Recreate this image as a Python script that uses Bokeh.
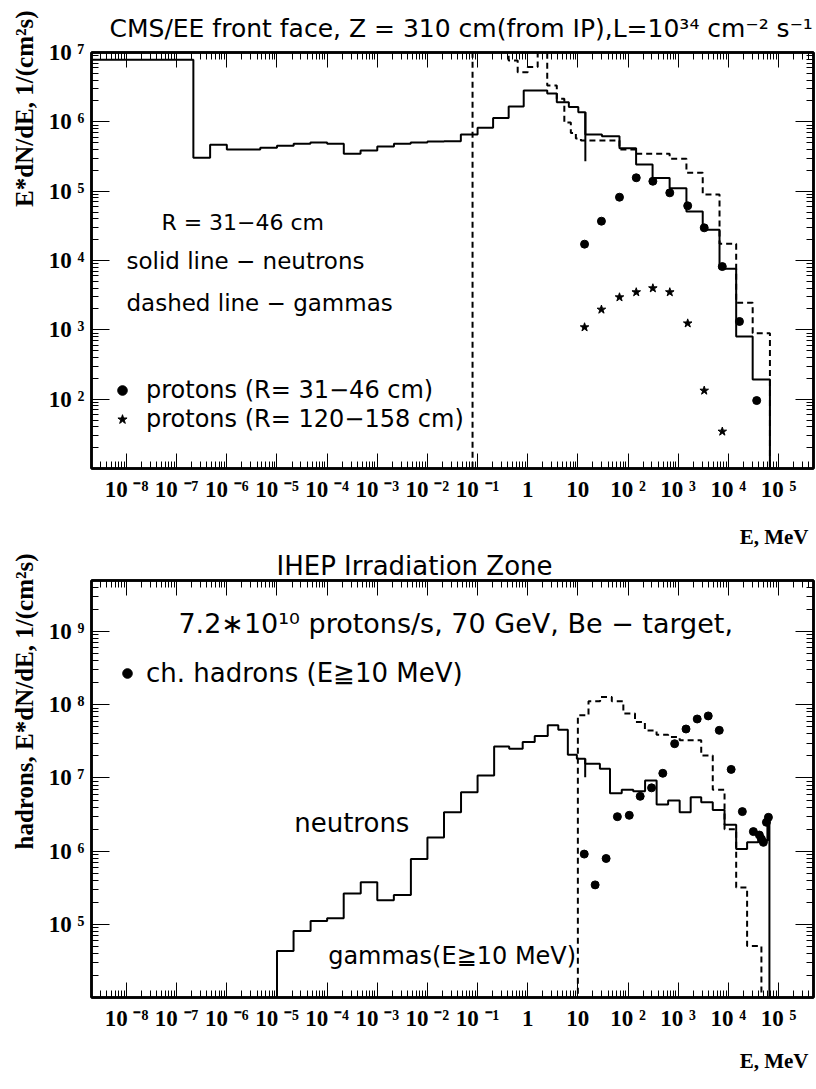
import math
from bokeh.plotting import figure
from bokeh.models import (Range1d, LogAxis, FixedTicker, CustomJSTickFormatter,
                          Label, Legend, LegendItem, Title)
from bokeh.layouts import column
from bokeh.embed import file_html
from bokeh.resources import INLINE

# ---------------- data ----------------
# Top panel: CMS/EE front face, R = 31-46 cm
top_n_edges = [1e-9, 2.15e-7, 4.64e-7, 1e-6, 2.15e-6, 4.64e-6, 1e-5, 2.15e-5, 4.64e-5,
               1e-4, 2.15e-4, 4.64e-4, 1e-3, 2.15e-3, 4.64e-3, 0.01, 0.0215, 0.0464,
               0.1, 0.204, 0.417, 0.832, 2.45, 3.80, 6.61, 10.2, 14.1, 30.2, 67.6,
               145, 309, 676, 1462, 3090, 6683, 14355, 30620, 67608]
top_n_vals = [7.85e6, 3.03e5, 4.67e5, 3.99e5, 3.99e5, 4.22e5, 4.51e5, 4.82e5, 5.04e5,
              4.82e5, 3.46e5, 3.86e5, 4.41e5, 4.82e5, 5.04e5, 5.20e5, 5.26e5, 6.56e5,
              8.20e5, 1.14e6, 1.66e6, 2.83e6, 2.57e6, 1.92e6, 1.63e6, 1.38e6, 6.56e5,
              6.21e5, 4.17e5, 2.43e5, 1.55e5, 1.10e5, 5.09e4, 2.77e4, 7.59e3, 802, 192]
top_n_spike_E = [14.1]
top_n_spike_hi = [1.38e6]
top_n_spike_lo = [2.7e5]

top_g_edges = [0.0794, 0.417, 0.631, 1.0, 1.58, 2.45, 3.80, 5.37, 7.24, 9.12, 11.5,
               67.6, 145, 676, 1462, 3090, 6683, 14355, 30620, 67608]
top_g_vals = [2.5e7, 7.67e6, 5.20e6, 6.17e6, 2.5e7, 3.34e6, 2.15e6, 9.77e5, 6.92e5,
              5.75e5, 5.37e5, 3.98e5, 3.46e5, 2.93e5, 1.84e5, 8.95e4, 1.74e4, 2.45e3, 893]

prot_E = [13.6, 29.5, 67.6, 146, 313, 681, 1550, 3310, 7590, 16700, 36800]
prot_R31_46 = [1.72e4, 3.69e4, 8.18e4, 1.56e5, 1.39e5, 9.46e4, 6.15e4, 2.96e4,
               8.18e3, 1.32e3, 95.5]
prot_R120_158_E = [13.6, 29.5, 67.6, 146, 313, 681, 1550, 3310, 7590]
prot_R120_158 = [1.09e3, 1.96e3, 2.95e3, 3.49e3, 3.98e3, 3.49e3, 1.24e3, 133, 34.1]

# Bottom panel: IHEP irradiation zone
bot_n_edges = [1e-5, 2.14e-5, 4.68e-5, 1e-4, 2.14e-4, 4.68e-4, 1e-3, 2.14e-3, 4.68e-3,
               0.01, 0.0214, 0.0468, 0.1, 0.214, 0.427, 0.794, 1.38, 2.51, 4.07, 6.31,
               9.55, 14.0, 27.5, 43.7, 75.0, 127, 219, 372, 631, 1072, 1778, 2884,
               4898, 8414, 14355, 23714, 39811, 60256, 66069]
bot_n_vals = [4.31e4, 8.13e4, 1.11e5, 1.21e5, 2.63e5, 3.77e5, 2.14e5, 2.52e5, 7.80e5,
              1.54e6, 3.40e6, 6.38e6, 1.08e7, 2.70e7, 2.51e7, 3.10e7, 3.74e7, 5.25e7,
              4.57e7, 2.08e7, 1.83e7, 1.57e7, 1.34e7, 6.19e6, 6.89e6, 6.61e6, 9.25e6,
              4.33e6, 4.91e6, 3.40e6, 5.46e6, 4.66e6, 3.66e6, 2.30e6, 1.07e6, 1.32e6,
              1.39e6, 2.88e6]
bot_n_spike_E = [14.0]
bot_n_spike_hi = [1.83e7]
bot_n_spike_lo = [1.02e7]

bot_g_edges = [10.0, 16.3, 27.8, 47.5, 80.7, 138, 217, 371, 631, 1072, 2884, 4898,
               8414, 14355, 23714, 45709]
bot_g_vals = [7.19e7, 1.12e8, 1.28e8, 1.12e8, 7.59e7, 5.82e7, 4.47e7, 3.89e7, 3.63e7,
              3.27e7, 2.03e7, 6.89e6, 2.0e6, 3.18e5, 5.04e4]

had_E = [13.4, 22.1, 36.6, 61.4, 106, 175, 295, 494, 851, 1435, 2399, 3981, 6607,
         11402, 19055, 31623, 41687, 45709, 50119, 57544, 63096]
had_vals = [9.12e5, 3.46e5, 7.94e5, 2.96e6, 3.09e6, 5.62e6, 7.33e6, 1.16e7, 2.94e7,
            4.67e7, 6.40e7, 7.05e7, 4.48e7, 1.31e7, 3.47e6, 1.85e6, 1.66e6, 1.47e6,
            1.32e6, 2.48e6, 2.90e6]

# ---------------- layout constants (page px) ----------------
X_LO, X_HI = 2e-9, 5e5
Y1_LO, Y1_HI = 10.0, 1e7
Y2_LO, Y2_HI = 1e4, 5e9
W = 815
FL, FR = 90, 813          # frame left / right
T1, B1 = 52, 468          # top panel frame
T2, B2 = 580, 997         # bottom panel frame
H1 = 522
H2 = 563

TXT = "DejaVu Sans"
SERIF = "Liberation Serif"


def X(px):
    lo, hi = math.log10(X_LO), math.log10(X_HI)
    return 10 ** (lo + (px - FL) * (hi - lo) / (FR - FL))


def Y1(py):
    lo, hi = math.log10(Y1_LO), math.log10(Y1_HI)
    return 10 ** (hi - (py - T1) * (hi - lo) / (B1 - T1))


def Y2(py):
    lo, hi = math.log10(Y2_LO), math.log10(Y2_HI)
    return 10 ** (hi - (py - T2) * (hi - lo) / (B2 - T2))


def steps(edges, vals, floor):
    xs, ys = [edges[0]], [floor]
    for i, v in enumerate(vals):
        xs += [edges[i], edges[i + 1]]
        ys += [v, v]
    xs.append(edges[-1])
    ys.append(floor)
    return xs, ys


FMT = """
const e = Math.round(Math.log10(tick));
if (hide.includes(e)) return "";
if (e === 0) return "1";
if (e === 1) return "10";
const sup = {"-": "\u207b", "0": "\u2070", "1": "\u00b9", "2": "\u00b2", "3": "\u00b3",
             "4": "\u2074", "5": "\u2075", "6": "\u2076", "7": "\u2077", "8": "\u2078",
             "9": "\u2079"};
return "10 " + String(e).split("").map(c => sup[c]).join("");
"""

x_major = [10.0 ** k for k in range(-8, 6)]
x_minor = [m * 10.0 ** k for k in range(-9, 6) for m in range(2, 10)]


def style_axis(ax, is_x, labelled, y_major=None, y_minor=None, y_hide=()):
    if is_x:
        ax.ticker = FixedTicker(ticks=x_major, minor_ticks=x_minor)
        ax.major_tick_in = 15
        ax.minor_tick_in = 7
    else:
        ax.ticker = FixedTicker(ticks=y_major, minor_ticks=y_minor)
        ax.major_tick_in = 18
        ax.minor_tick_in = 7
    ax.major_tick_out = 0
    ax.minor_tick_out = 0
    ax.axis_line_width = 2.5
    ax.axis_line_color = "black"
    ax.major_tick_line_width = 1
    ax.minor_tick_line_width = 1
    ax.major_tick_line_color = "black"
    ax.minor_tick_line_color = "black"
    if labelled:
        ax.formatter = CustomJSTickFormatter(code=FMT, args=dict(hide=list(y_hide)))
        ax.major_label_text_font = SERIF
        ax.major_label_text_font_style = "bold"
        ax.major_label_text_font_size = "23px"
        ax.major_label_text_color = "black"
        ax.major_label_standoff = 8 if is_x else 7
    else:
        ax.formatter = CustomJSTickFormatter(code="return '';")
        ax.major_label_standoff = 0
        ax.major_label_text_font_size = "1px"


def make_fig(height, ylo, yhi, top_border, bottom_border, y_hide):
    p = figure(width=W, height=height, x_axis_type="log", y_axis_type="log",
               x_range=Range1d(X_LO, X_HI), y_range=Range1d(ylo, yhi),
               output_backend="svg", toolbar_location=None, title_location=None,
               min_border_left=FL, min_border_right=W - FR,
               min_border_top=top_border, min_border_bottom=bottom_border)
    p.xgrid.visible = False
    p.ygrid.visible = False
    p.outline_line_color = "black"
    p.outline_line_width = 2.5
    p.background_fill_color = "white"
    p.border_fill_color = "white"

    k0, k1 = int(round(math.log10(ylo))), int(math.floor(math.log10(yhi)))
    y_major = [10.0 ** k for k in range(k0, k1 + 1)]
    y_minor = [m * 10.0 ** k for k in range(k0, k1 + 1) for m in range(2, 10)]

    bottom_ax = p.below[0]
    left_ax = p.left[0]
    top_ax = LogAxis()
    right_ax = LogAxis()
    p.add_layout(top_ax, "above")
    p.add_layout(right_ax, "right")
    style_axis(bottom_ax, True, True)
    style_axis(top_ax, True, False)
    style_axis(left_ax, False, True, y_major, y_minor, y_hide)
    style_axis(right_ax, False, False, y_major, y_minor)
    return p


def add_text(p, x, y, text, size, align="left"):
    p.add_layout(Label(x=x, y=y, text=text, text_font=TXT, text_font_size=size,
                       text_align=align, text_baseline="middle", text_color="black"))


def add_title(p, side, text, size, font, style, align, offset, standoff):
    # Title: offset shifts from the aligned edge of the frame, standoff/2 is the gap
    p.add_layout(Title(text=text, text_font=font, text_font_size=size,
                       text_font_style=style, text_color="black", align=align,
                       offset=offset, standoff=standoff), side)


# ---------------- top panel ----------------
p1 = make_fig(H1, Y1_LO, Y1_HI, T1, H1 - B1, [1])
floor1 = 1.0
xs, ys = steps(top_n_edges, top_n_vals, floor1)
p1.line(xs, ys, line_color="black", line_width=2)
p1.segment(x0=top_n_spike_E, y0=top_n_spike_hi, x1=top_n_spike_E, y1=top_n_spike_lo,
           line_color="black", line_width=2)
xs, ys = steps(top_g_edges, top_g_vals, floor1)
p1.line(xs, ys, line_color="black", line_width=2, line_dash="6 4")
r_c1 = p1.scatter(prot_E, prot_R31_46, marker="circle", size=8, color="black")
r_s1 = p1.scatter(prot_R120_158_E, prot_R120_158, marker="star", size=9, color="black")

leg1 = Legend(items=[LegendItem(label="protons (R= 31\u221246 cm)", renderers=[r_c1]),
                     LegendItem(label="protons (R= 120\u2212158 cm)", renderers=[r_s1])],
              location=(19, B1 - 433), padding=0, margin=0, spacing=1,
              glyph_width=24, glyph_height=26, label_height=26, label_standoff=12,
              label_text_font=TXT, label_text_font_size="24px", label_text_color="black",
              background_fill_alpha=0, border_line_alpha=0)
p1.add_layout(leg1, "center")

add_text(p1, X(160), Y1(222), "R = 31\u221246 cm", "22px")
add_text(p1, X(125), Y1(260), "solid line \u2212 neutrons", "23px")
add_text(p1, X(125), Y1(302), "dashed line \u2212 gammas", "23px")

add_title(p1, "above",
          "CMS/EE front face, Z = 310 cm(from IP),L=10\u00b3\u2074 cm\u207b\u00b2 s\u207b\u00b9",
          "25px", TXT, "normal", "left", 18, 20)
add_title(p1, "left", "E*dN/dE, 1/(cm\u00b2s)", "25px", SERIF, "bold", "right", -42, 16)

# ---------------- bottom panel ----------------
p2 = make_fig(H2, Y2_LO, Y2_HI, T2 - H1, (H1 + H2) - B2, [4])
floor2 = 100.0
xs, ys = steps(bot_n_edges, bot_n_vals, floor2)
p2.line(xs, ys, line_color="black", line_width=2)
p2.segment(x0=bot_n_spike_E, y0=bot_n_spike_hi, x1=bot_n_spike_E, y1=bot_n_spike_lo,
           line_color="black", line_width=2)
xs, ys = steps(bot_g_edges, bot_g_vals, floor2)
p2.line(xs, ys, line_color="black", line_width=2, line_dash="6 4")
r_c2 = p2.scatter(had_E, had_vals, marker="circle", size=8, color="black")

leg2 = Legend(items=[LegendItem(label="ch. hadrons (E\u226710 MeV)", renderers=[r_c2])],
              location=(24, B2 - 688), padding=0, margin=0, spacing=0,
              glyph_width=24, glyph_height=26, label_height=26, label_standoff=7,
              label_text_font=TXT, label_text_font_size="26px", label_text_color="black",
              background_fill_alpha=0, border_line_alpha=0)
p2.add_layout(leg2, "center")

add_text(p2, X(177), Y2(623), "7.2\u221710\u00b9\u2070 protons/s, 70 GeV, Be \u2212 target,", "27px")
add_text(p2, X(293), Y2(822), "neutrons", "26px")
add_text(p2, X(327), Y2(955), "gammas(E\u226710 MeV)", "24px")

add_title(p2, "above", "IHEP Irradiation Zone", "26px", TXT, "normal", "left", 185, 0)
# x-axis title of the upper panel sits just above the lower panel's title
add_title(p2, "above", "E, MeV", "21px", SERIF, "bold", "right", 5, 0)
add_title(p2, "below", "E, MeV", "21px", SERIF, "bold", "right", 5, 26)
add_title(p2, "left", "hadrons, E*dN/dE, 1/(cm\u00b2s)", "25px", SERIF, "bold", "right", -27, 16)

layout = column(p1, p2)
open("out.html", "w").write(file_html(layout, INLINE))
